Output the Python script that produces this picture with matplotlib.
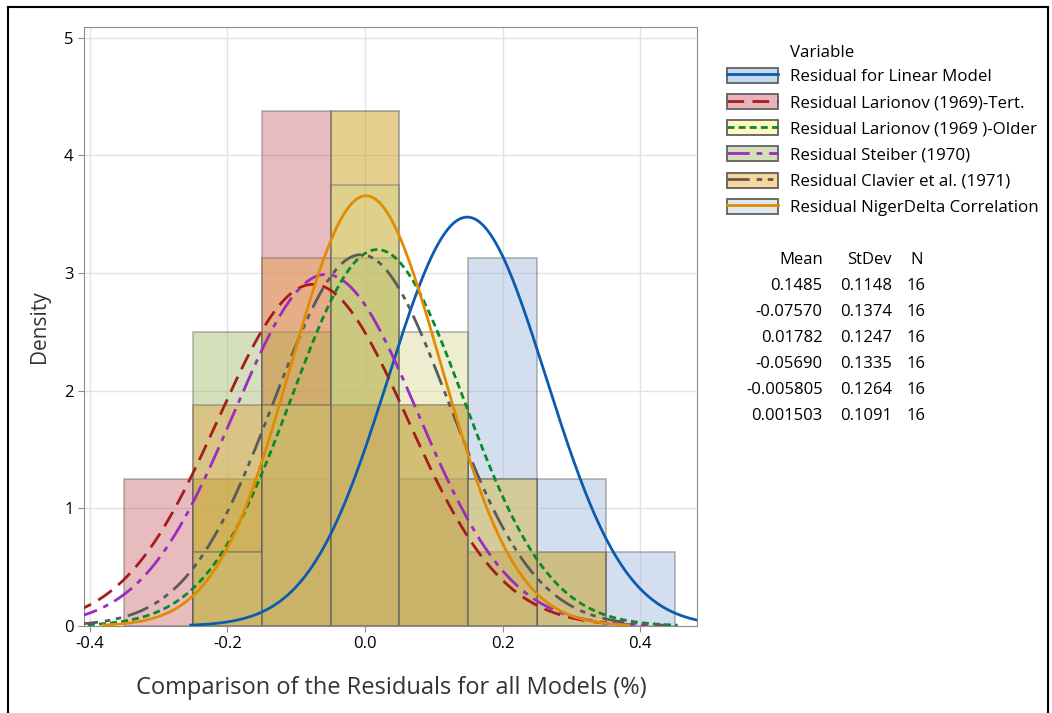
import numpy as np
import matplotlib.pyplot as plt
from matplotlib.patches import Patch
from matplotlib.lines import Line2D

plt.rcParams['font.family'] = ['Open Sans', 'DejaVu Sans']

# bin centres (width 0.1) and counts per bin for each residual series (N = 16)
bin_centers = [-0.3, -0.2, -0.1, 0.0, 0.1, 0.2, 0.3, 0.4]
bin_width = 0.1
names = ["Residual for Linear Model", "Residual Larionov (1969)-Tert.",
         "Residual Larionov (1969 )-Older", "Residual Steiber (1970)",
         "Residual Clavier et al. (1971)", "Residual NigerDelta Correlation"]
counts_linear = [0, 0, 2, 3, 3, 5, 2, 1]
counts_tert = [2, 1, 7, 3, 2, 1, 0, 0]
counts_older = [0, 1, 3, 6, 4, 2, 0, 0]
counts_steiber = [0, 4, 4, 5, 2, 1, 0, 0]
counts_clavier = [0, 3, 5, 3, 3, 2, 0, 0]
counts_niger = [0, 2, 3, 7, 3, 0, 1, 0]
means = [0.1485, -0.07570, 0.01782, -0.05690, -0.005805, 0.001503]
stdevs = [0.1148, 0.1374, 0.1247, 0.1335, 0.1264, 0.1091]
n_obs = [16, 16, 16, 16, 16, 16]
mean_labels = ["0.1485", "-0.07570", "0.01782", "-0.05690", "-0.005805", "0.001503"]
sd_labels = ["0.1148", "0.1374", "0.1247", "0.1335", "0.1264", "0.1091"]

all_counts = [counts_linear, counts_tert, counts_older, counts_steiber, counts_clavier, counts_niger]
bar_cols = ["#91afd9", "#c6575f", "#d2d68a", "#96b157", "#e29c36", "#c99a14"]
bar_alpha = [0.4, 0.4, 0.4, 0.4, 0.4, 0.48]
draw_order = [0, 5, 1, 3, 4, 2]
key_cols = ["#c6d8ee", "#e8b4bb", "#fff6c0", "#d3dfb8", "#f9d69b", "#dde8f0"]
line_cols = ["#0b5cb0", "#a51c1c", "#0a8a2a", "#9c2bbf", "#5a5a5a", "#e38b00"]
line_styles = ["-", (0, (6, 3)), (0, (2.5, 1.5)), (0, (8, 2.5, 2, 2.5)), (0, (8, 2.5, 2, 2, 2, 2.5)), "-"]

fig = plt.figure(figsize=(10.52, 7.13), dpi=100)
ax = fig.add_axes([0.080, 0.122, 0.583, 0.840])

for k in draw_order:
    cnt = all_counts[k]
    dens = np.array(cnt) / (sum(cnt) * bin_width)
    keep = dens > 0
    ax.bar(np.array(bin_centers)[keep], dens[keep], width=bin_width, color=bar_cols[k],
           alpha=bar_alpha[k], edgecolor="#5a5a5a", linewidth=1.3, zorder=2)

for m, s, lc, ls in zip(means, stdevs, line_cols, line_styles):
    xs = np.linspace(max(m - 3.5 * s, -0.42), min(m + 3.5 * s, 0.5), 500)
    ys = np.exp(-0.5 * ((xs - m) / s) ** 2) / (s * np.sqrt(2 * np.pi))
    ax.plot(xs, ys, color=lc, linestyle=ls, linewidth=2.0, zorder=3)

ax.set_xlim(-0.408, 0.483)
ax.set_ylim(0, 5.09)
ax.set_xticks([-0.4, -0.2, 0.0, 0.2, 0.4])
ax.set_xticklabels(["-0.4", "-0.2", "0.0", "0.2", "0.4"])
ax.set_yticks([0, 1, 2, 3, 4, 5])
ax.grid(True, color="#e3e3e3", linewidth=1.0, zorder=0)
ax.set_axisbelow(True)
for sp in ax.spines.values():
    sp.set_color("#8c8c8c")
ax.tick_params(colors="#8c8c8c", labelcolor="black", labelsize=12, length=4)
ax.set_xlabel("Comparison of the Residuals for all Models (%)", fontsize=17, color="#333333", labelpad=17)
ax.set_ylabel("Density", fontsize=15, color="#333333", labelpad=10)

handles = [(Patch(facecolor=kc, edgecolor="#606060", linewidth=1.3),
            Line2D([], [], color=lc, linestyle=ls, linewidth=2.0))
           for kc, lc, ls in zip(key_cols, line_cols, line_styles)]
fig.legend(handles, names, loc="upper left", bbox_to_anchor=(0.691, 0.905),
           frameon=False, fontsize=12.2, handlelength=3.0, handleheight=1.0,
           labelspacing=0.52, handletextpad=0.7, borderpad=0, borderaxespad=0)
fig.text(0.751, 0.926, "Variable", ha="left", va="center", fontsize=12.2)

# summary table
row_h = 0.0365
y0 = 0.636
fig.text(0.782, y0, "Mean", ha="right", va="center", fontsize=12)
fig.text(0.848, y0, "StDev", ha="right", va="center", fontsize=12)
fig.text(0.877, y0, "N", ha="right", va="center", fontsize=12)
for i in range(len(means)):
    yy = y0 - (i + 1) * row_h
    fig.text(0.782, yy, mean_labels[i], ha="right", va="center", fontsize=12)
    fig.text(0.848, yy, sd_labels[i], ha="right", va="center", fontsize=12)
    fig.text(0.880, yy, str(n_obs[i]), ha="right", va="center", fontsize=12)

# outer frame of the screenshot
fig.add_artist(Line2D([0.008, 0.008], [0.0, 0.99], color="black", linewidth=1.5, transform=fig.transFigure))
fig.add_artist(Line2D([0.008, 0.996], [0.99, 0.99], color="black", linewidth=1.5, transform=fig.transFigure))
fig.add_artist(Line2D([0.996, 0.996], [0.0, 0.99], color="black", linewidth=1.5, transform=fig.transFigure))

fig.savefig("out.png", dpi=100)
